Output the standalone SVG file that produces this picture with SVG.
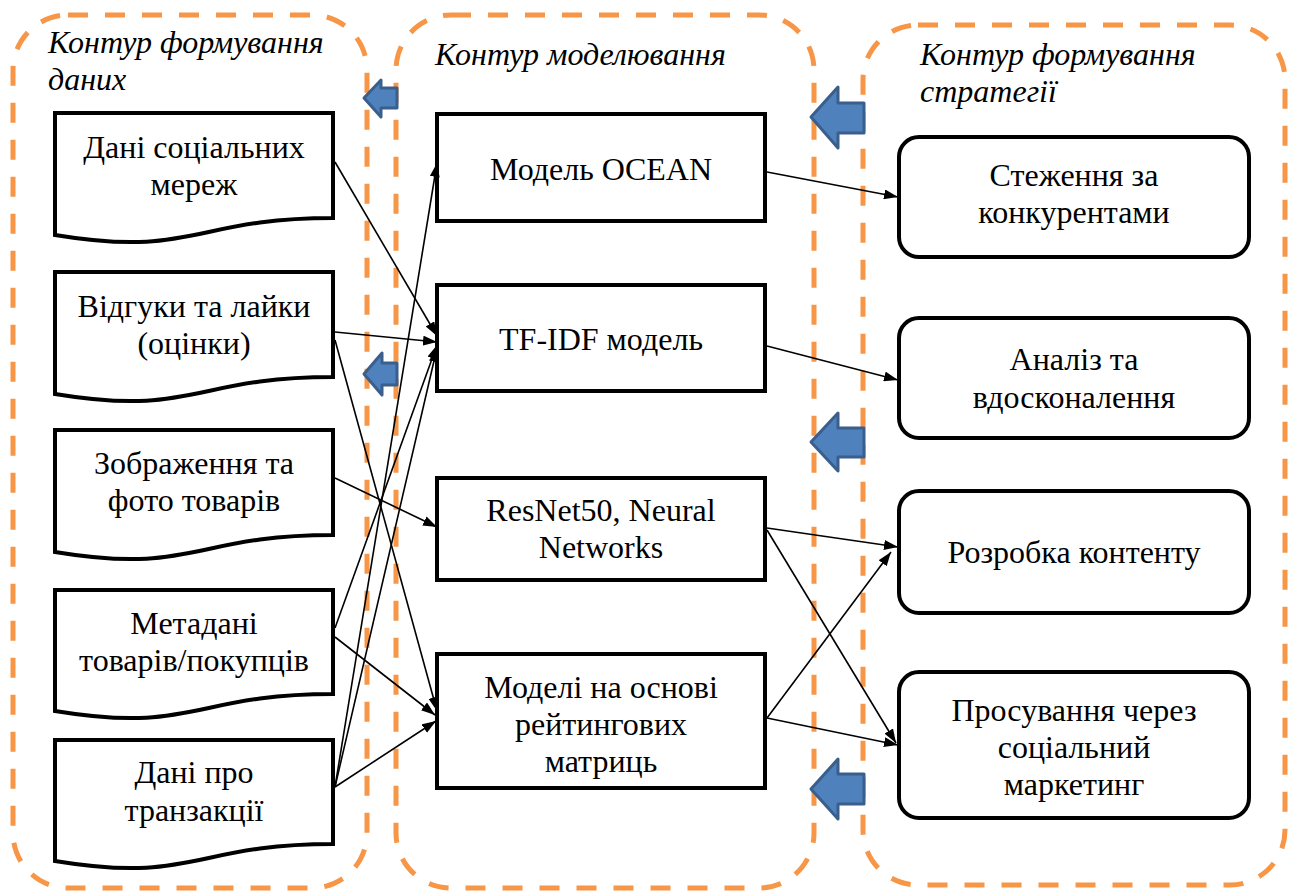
<svg xmlns="http://www.w3.org/2000/svg" width="1293" height="893" viewBox="0 0 1293 893">
<defs>
<marker id="ah" viewBox="0 0 14 10" refX="14" refY="5" markerWidth="14" markerHeight="10" markerUnits="userSpaceOnUse" orient="auto">
<path d="M0,0 L14,5 L0,10 Z" fill="#000"/>
</marker>
<style>
.cont{fill:none;stroke:#F79646;stroke-width:5;stroke-dasharray:20 17}
.doc,.box,.rbox{fill:#fff;stroke:#000;stroke-width:4;stroke-linejoin:miter}
.t{font-family:'Liberation Serif','Times New Roman',serif;font-size:32px;fill:#000;text-anchor:middle}
.ti{font-family:'Liberation Serif','Times New Roman',serif;font-size:32px;font-style:italic;fill:#000}
.c{fill:none;stroke:#000;stroke-width:1.6;marker-end:url(#ah)}
.ba{fill:#4F81BD;stroke:#3A5F8C;stroke-width:3;stroke-linejoin:round}
</style>
</defs>
<rect width="1293" height="893" fill="#fff"/>
<g id="contour-data">
<rect class="cont" x="13" y="15" width="354" height="873" rx="55"/>
<text class="ti" x="48" y="53">Контур формування</text>
<text class="ti" x="48" y="90">даних</text>
</g>
<g id="contour-model">
<rect class="cont" x="396" y="15" width="418" height="873" rx="55"/>
<text class="ti" x="435" y="65">Контур моделювання</text>
</g>
<g id="contour-strategy">
<rect class="cont" x="863" y="25" width="422" height="860" rx="55"/>
<text class="ti" x="920" y="65">Контур формування</text>
<text class="ti" x="920" y="102">стратегії</text>
</g>
<g id="doc1">
<path class="doc" d="M55,113 H333 V218 C194,218 194,258 55,235 Z"/>
<text class="t" x="194" y="158">Дані соціальних</text>
<text class="t" x="194" y="195">мереж</text>
</g>
<g id="doc2">
<path class="doc" d="M55,272 H333 V377 C194,377 194,417 55,394 Z"/>
<text class="t" x="194" y="317">Відгуки та лайки</text>
<text class="t" x="194" y="354">(оцінки)</text>
</g>
<g id="doc3">
<path class="doc" d="M55,430 H333 V535 C194,535 194,575 55,552 Z"/>
<text class="t" x="194" y="474">Зображення та</text>
<text class="t" x="194" y="511">фото товарів</text>
</g>
<g id="doc4">
<path class="doc" d="M55,590 H333 V694 C194,694 194,734 55,711 Z"/>
<text class="t" x="194" y="634">Метадані</text>
<text class="t" x="194" y="671">товарів/покупців</text>
</g>
<g id="doc5">
<path class="doc" d="M55,740 H333 V844 C194,844 194,884 55,861 Z"/>
<text class="t" x="194" y="783">Дані про</text>
<text class="t" x="194" y="821">транзакції</text>
</g>
<g id="m1">
<rect class="box" x="437" y="114" width="328" height="107"/>
<text class="t" x="601" y="180">Модель OCEAN</text>
</g>
<g id="m2">
<rect class="box" x="437" y="285" width="328" height="106"/>
<text class="t" x="601" y="350">TF-IDF модель</text>
</g>
<g id="m3">
<rect class="box" x="437" y="478" width="328" height="102"/>
<text class="t" x="601" y="521">ResNet50, Neural</text>
<text class="t" x="601" y="558">Networks</text>
</g>
<g id="m4">
<rect class="box" x="437" y="654" width="328" height="134"/>
<text class="t" x="601" y="698">Моделі на основі</text>
<text class="t" x="601" y="735">рейтингових</text>
<text class="t" x="601" y="772">матриць</text>
</g>
<g id="s1">
<rect class="rbox" x="899" y="137" width="350" height="120" rx="20"/>
<text class="t" x="1074" y="186">Стеження за</text>
<text class="t" x="1074" y="223">конкурентами</text>
</g>
<g id="s2">
<rect class="rbox" x="899" y="318" width="350" height="120" rx="20"/>
<text class="t" x="1074" y="370">Аналіз та</text>
<text class="t" x="1074" y="408">вдосконалення</text>
</g>
<g id="s3">
<rect class="rbox" x="899" y="491" width="350" height="122" rx="20"/>
<text class="t" x="1074" y="563">Розробка контенту</text>
</g>
<g id="s4">
<rect class="rbox" x="899" y="672" width="350" height="146" rx="20"/>
<text class="t" x="1074" y="721">Просування через</text>
<text class="t" x="1074" y="758">соціальний</text>
<text class="t" x="1074" y="795">маркетинг</text>
</g>
<g id="connectors">
<line class="c" x1="335" y1="162" x2="437" y2="336"/>
<line class="c" x1="335" y1="332" x2="437" y2="342"/>
<line class="c" x1="335" y1="340" x2="437" y2="711"/>
<line class="c" x1="335" y1="478" x2="437" y2="527"/>
<line class="c" x1="335" y1="628" x2="437" y2="345"/>
<line class="c" x1="335" y1="637" x2="435" y2="715"/>
<line class="c" x1="335" y1="787" x2="437" y2="163"/>
<line class="c" x1="335" y1="787" x2="437" y2="348"/>
<line class="c" x1="335" y1="787" x2="436" y2="721"/>
<line class="c" x1="767" y1="172" x2="898" y2="197"/>
<line class="c" x1="767" y1="346" x2="898" y2="380"/>
<line class="c" x1="767" y1="528" x2="898" y2="547"/>
<line class="c" x1="767" y1="530" x2="896" y2="743"/>
<line class="c" x1="767" y1="718" x2="891" y2="552"/>
<line class="c" x1="767" y1="718" x2="898" y2="745"/>
</g>
<g id="flow-arrows">
<polygon class="ba" points="364,98 381,80 381,88 397,88 397,108 381,108 381,117"/>
<polygon class="ba" points="364,374 382,353 382,363 397,363 397,385 382,385 382,395"/>
<polygon class="ba" points="811,117 838,87 838,103 864,103 864,133 838,133 838,148"/>
<polygon class="ba" points="811,442 838,413 838,428 864,428 864,457 838,457 838,471"/>
<polygon class="ba" points="811,789 838,759 838,774 864,774 864,804 838,804 838,819"/>
</g>
</svg>
